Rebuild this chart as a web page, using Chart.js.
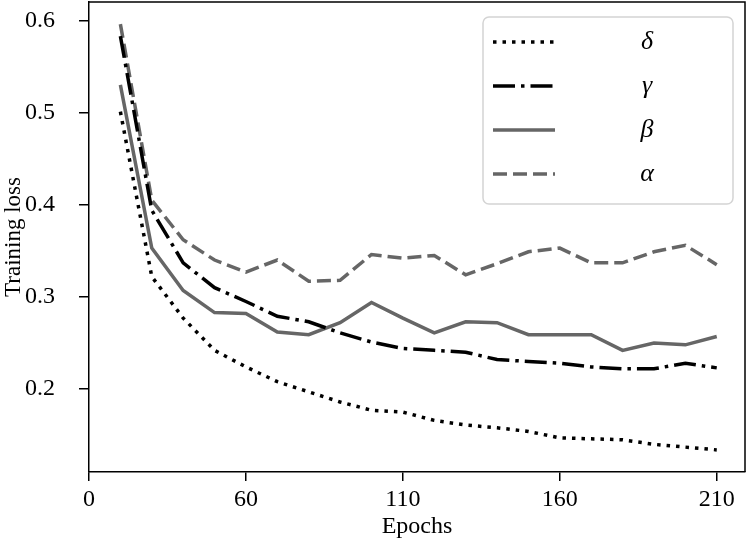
<!DOCTYPE html>
<html>
<head>
<meta charset="utf-8">
<script src="https://cdn.jsdelivr.net/npm/chart.js@4.4.0/dist/chart.umd.min.js"></script>
<style>
  html, body { margin: 0; padding: 0; background: #fff; }
</style>
</head>
<body>
<canvas id="grafico" width="750" height="546"></canvas>
<script>
// Datos
const epocas = [10, 20, 30, 40, 50, 60, 70, 80, 90, 100, 110, 120, 130, 140, 150, 160, 170, 180, 190, 200];
const posTicksX = [0, 50, 100, 150, 200];
const etiquetasX = ['0', '60', '110', '160', '210'];
const ticksY = [0.2, 0.3, 0.4, 0.5, 0.6];

const lossDelta = [0.501, 0.322, 0.277, 0.242, 0.224, 0.208, 0.197, 0.186, 0.177, 0.175, 0.166, 0.161, 0.158, 0.154, 0.147, 0.146, 0.145, 0.140, 0.137, 0.134];
const lossGamma = [0.583, 0.394, 0.337, 0.310, 0.295, 0.279, 0.273, 0.261, 0.251, 0.244, 0.242, 0.240, 0.232, 0.230, 0.228, 0.224, 0.222, 0.222, 0.228, 0.223];
const lossBeta = [0.530, 0.353, 0.307, 0.283, 0.282, 0.262, 0.259, 0.272, 0.294, 0.277, 0.261, 0.273, 0.272, 0.259, 0.259, 0.259, 0.242, 0.250, 0.248, 0.257];
const lossAlpha = [0.596, 0.405, 0.362, 0.340, 0.327, 0.340, 0.317, 0.318, 0.346, 0.342, 0.345, 0.324, 0.336, 0.349, 0.353, 0.337, 0.337, 0.349, 0.356, 0.335];

const fuente = '"Liberation Serif", "DejaVu Serif", serif';
const gris = '#666666';

function puntos(valores) {
    return epocas.map((e, i) => ({ x: e, y: valores[i] }));
}

// Leyenda dibujada a mano (caja redondeada, texto centrado)
const leyenda = {
    id: 'leyenda',
    afterDraw(chart) {
        const ctx = chart.ctx;
        const { top, right } = chart.chartArea;
        const x0 = right - 262, y0 = top + 15, w = 250, h = 187;
        ctx.save();
        ctx.setLineDash([]);
        ctx.fillStyle = 'rgba(255,255,255,0.85)';
        ctx.strokeStyle = '#d4d4d4';
        ctx.lineWidth = 1.5;
        ctx.beginPath();
        ctx.roundRect(x0, y0, w, h, 6);
        ctx.fill();
        ctx.stroke();
        chart.data.datasets.forEach((ds, i) => {
            const y = y0 + 25 + i * 44;
            ctx.strokeStyle = ds.borderColor;
            ctx.lineWidth = ds.borderWidth;
            ctx.setLineDash(ds.borderDash || []);
            ctx.beginPath();
            ctx.moveTo(x0 + 10, y);
            ctx.lineTo(x0 + 72, y);
            ctx.stroke();
            ctx.setLineDash([]);
            ctx.fillStyle = '#000';
            ctx.font = 'italic 26px ' + fuente;
            ctx.textAlign = 'center';
            ctx.textBaseline = 'middle';
            ctx.fillText(ds.label, x0 + 164, y);
        });
        ctx.restore();
    }
};

// Marco superior y derecho
const marco = {
    id: 'marco',
    afterDraw(chart) {
        const ctx = chart.ctx;
        const { left, top, right, bottom } = chart.chartArea;
        ctx.save();
        ctx.strokeStyle = '#000';
        ctx.lineWidth = 1.5;
        ctx.beginPath();
        ctx.moveTo(left, top);
        ctx.lineTo(right, top);
        ctx.lineTo(right, bottom);
        ctx.stroke();
        ctx.restore();
    }
};

const grafico = new Chart(document.getElementById('grafico'), {
    type: 'line',
    data: {
        datasets: [
            { label: 'δ', data: puntos(lossDelta), borderColor: '#000', borderWidth: 3.5, borderDash: [3.5, 6] },
            { label: 'γ', data: puntos(lossGamma), borderColor: '#000', borderWidth: 3.5, borderDash: [22, 6, 3.5, 6] },
            { label: 'β', data: puntos(lossBeta), borderColor: gris, borderWidth: 3.5, borderDash: [] },
            { label: 'α', data: puntos(lossAlpha), borderColor: gris, borderWidth: 3.5, borderDash: [14, 6] },
        ]
    },
    options: {
        responsive: false,
        animation: false,
        devicePixelRatio: 1,
        layout: { padding: { left: 0, right: 5, top: 2, bottom: 0 } },
        elements: { point: { radius: 0 }, line: { tension: 0, borderCapStyle: 'butt' } },
        plugins: { legend: { display: false }, tooltip: { enabled: false } },
        scales: {
            x: {
                type: 'linear',
                min: 0,
                max: 209,
                afterBuildTicks: s => { s.ticks = posTicksX.map(v => ({ value: v })); },
                afterFit: s => { s.height = 74; s.paddingLeft = 0; s.paddingRight = 0; },
                ticks: {
                    callback: (v, i) => etiquetasX[i],
                    font: { family: fuente, size: 24 },
                    color: '#000',
                    padding: 4,
                    maxRotation: 0,
                    autoSkip: false
                },
                grid: { drawOnChartArea: false, tickLength: 9, color: '#000', lineWidth: 1.5 },
                border: { color: '#000', width: 1.5 },
                title: { display: true, text: 'Epochs', font: { family: fuente, size: 24 }, color: '#000', padding: { top: 0, bottom: 5 } }
            },
            y: {
                min: 0.11,
                max: 0.62,
                afterBuildTicks: s => { s.ticks = ticksY.map(v => ({ value: v })); },
                afterFit: s => { s.width = 89; s.paddingTop = 0; s.paddingBottom = 0; },
                ticks: {
                    callback: v => v.toFixed(1),
                    font: { family: fuente, size: 24 },
                    color: '#000',
                    padding: 24
                },
                grid: { drawOnChartArea: false, tickLength: 10, color: '#000', lineWidth: 1.5 },
                border: { color: '#000', width: 1.5 },
                title: { display: true, text: 'Training loss', font: { family: fuente, size: 23 }, color: '#000', padding: { top: 0, bottom: 0 } }
            }
        }
    },
    plugins: [leyenda, marco]
});
</script>
</body>
</html>
